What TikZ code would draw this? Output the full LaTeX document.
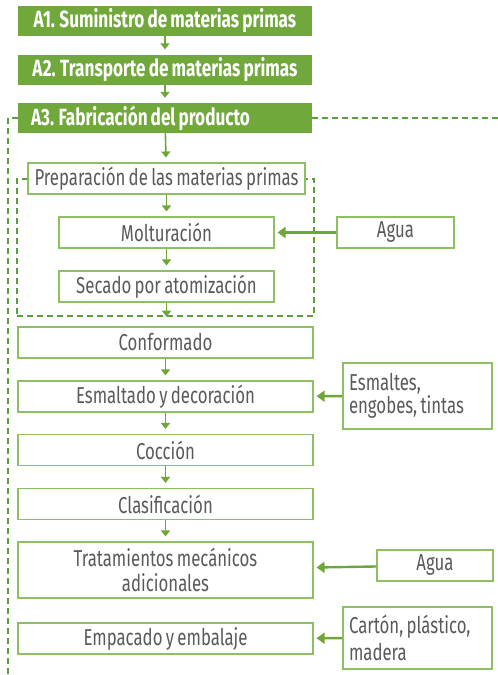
\documentclass[tikz,border=0pt]{standalone}
\usepackage{fontspec}
\setmainfont[FakeStretch=0.73, WordSpace=0.75]{Fira Sans}
\usepackage{tikz}
\usetikzlibrary{arrows.meta, calc, positioning}

\definecolor{titlegreen}{HTML}{70A83B}
\definecolor{boxgreen}{HTML}{8CC063}
\definecolor{dashgreen}{HTML}{5A9E3E}
\definecolor{arrowgreen}{HTML}{6EA637}
\definecolor{textgray}{HTML}{5A5A5A}

\tikzset{
    stage/.style={fill=titlegreen, text=white, font=\fontsize{23.5}{25}\selectfont\bfseries,
        minimum width=294pt, minimum height=30pt, inner sep=0pt},
    procbox/.style={draw=boxgreen, line width=1.1pt, fill=white, text=textgray,
        font=\fontsize{23}{25}\selectfont, minimum height=31pt, inner sep=0pt, align=center},
    inputbox/.style={procbox, align=flush left, inner xsep=6pt},
    flow/.style={-{Triangle[width=9pt,length=6pt]}, arrowgreen, line width=1.6pt, shorten >=5pt},
    feed/.style={-{Triangle[width=11pt,length=8pt]}, arrowgreen, line width=2.4pt, shorten >=3pt},
    frame/.style={dashgreen, line width=1.4pt, dash pattern=on 6pt off 4pt},
}

\begin{document}
\begin{tikzpicture}[x=1pt, y=-1pt]
    \useasboundingbox (0,0) rectangle (498,675);

    % stages A1 to A3
    \node[stage] (a1) at (165,21) {A1. Suministro de materias primas};
    \node[stage] (a2) at (165,69.5) {A2. Transporte de materias primas};
    \node[stage, text width=268pt, align=flush left] (a3) at (165,118) {A3. Fabricación del producto};
    \draw[flow] (a1) -- (a2);
    \draw[flow] (a2) -- (a3);

    % limit of A3
    \coordinate (limleft) at (8,118);
    \coordinate (limbottom) at (8,675);
    \coordinate (limright) at (498,118);
    \draw[frame] (a3.west) -- (limleft) -- (limbottom);
    \draw[frame] (a3.east) -- (limright);

    % preparation of raw materials
    \node[frame, draw, minimum width=297pt, minimum height=137pt] (prepframe) at (165.5,247.5) {};
    \node[procbox, minimum width=277pt] (prep) at (166.5,178.5) {Preparación de las materias primas};
    \node[procbox, minimum width=215pt] (molt) at (166.5,232.5) {Molturación};
    \node[procbox, minimum width=117pt] (agua1) at (395.5,232.5) {Agua};
    \node[procbox, minimum width=215pt] (secado) at (166.5,286.5) {Secado por atomización};
    \draw[flow] (a3) -- (prep);
    \draw[flow] (prep) -- (molt);
    \draw[flow] (molt) -- (secado);
    \draw[flow, shorten >=0pt] (secado) -- (secado |- prepframe.south);
    \draw[feed] (agua1) -- (molt);

    % main process
    \node[procbox, minimum width=295pt] (conf) at (165.5,342.5) {Conformado};
    \node[procbox, minimum width=295pt] (esm) at (165.5,396.5) {Esmaltado y decoración};
    \node[inputbox, minimum width=149pt, minimum height=66pt, text width=137pt,
        font=\fontsize{23}{23}\selectfont] (esmin) at (417.5,396) {Esmaltes,\\engobes, tintas};
    \node[procbox, minimum width=295pt] (cocc) at (165.5,450) {Cocción};
    \node[procbox, minimum width=295pt] (clas) at (165.5,504) {Clasificación};
    \node[procbox, minimum width=295pt, minimum height=56pt] (trat) at (165.5,570) {Tratamientos mecánicos\\adicionales};
    \node[procbox, minimum width=116pt] (agua2) at (435,565.5) {Agua};
    \node[procbox, minimum width=295pt] (empac) at (165.5,638.5) {Empacado y embalaje};
    \node[inputbox, minimum width=149pt, minimum height=62pt, text width=137pt,
        font=\fontsize{23}{27}\selectfont] (cartin) at (417.5,638) {Cartón, plástico,\\madera};
    \draw[flow] (conf) -- (esm);
    \draw[flow] (esm) -- (cocc);
    \draw[flow] (cocc) -- (clas);
    \draw[flow] (clas) -- (trat);
    \draw[feed] (esmin) -- (esm);
    \draw[feed] (agua2) -- (trat);
    \draw[feed] (cartin) -- (empac);
\end{tikzpicture}
\end{document}
